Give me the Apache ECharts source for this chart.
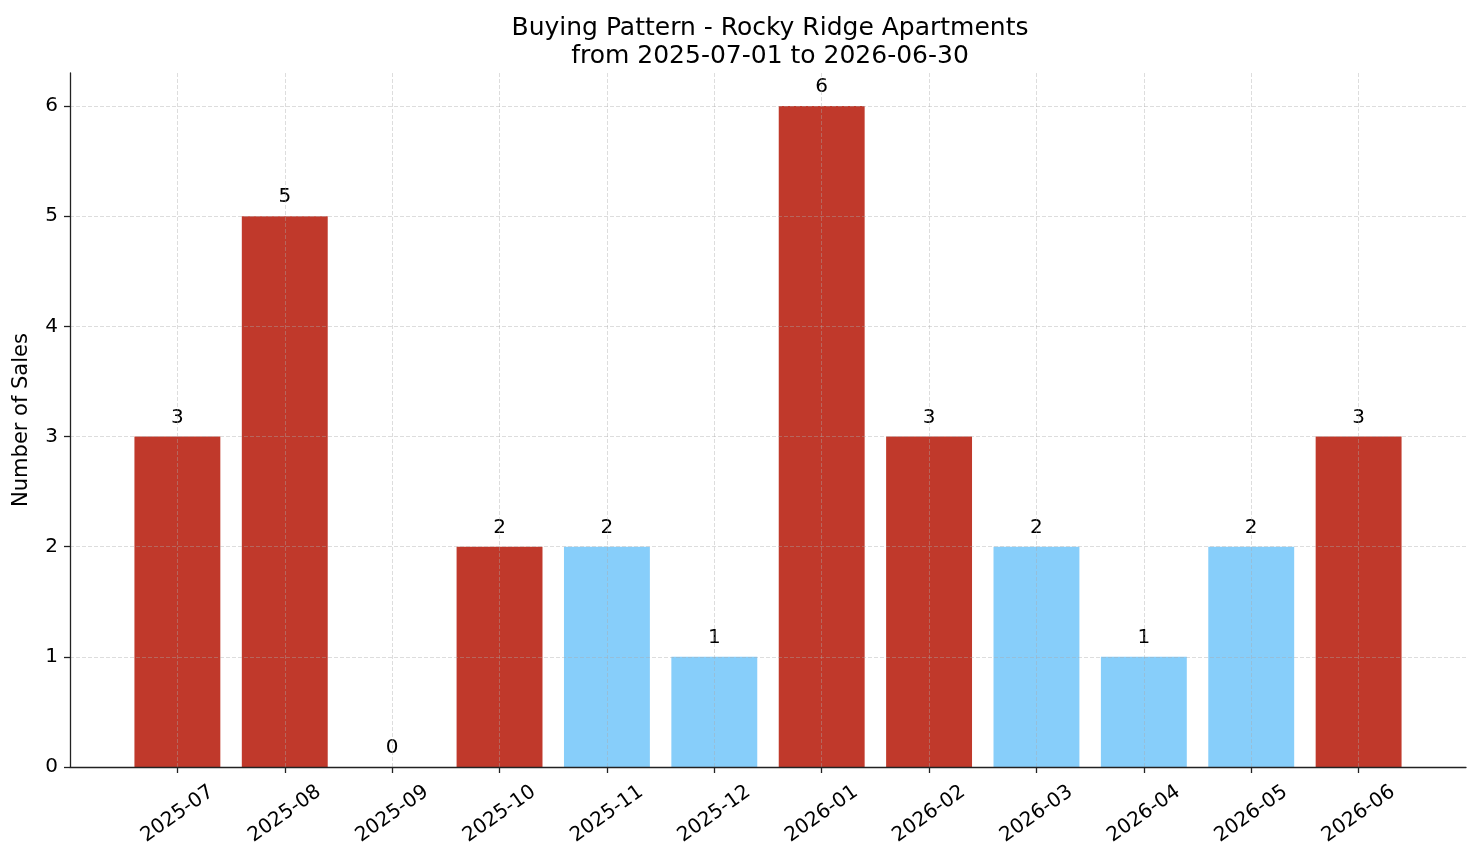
<!DOCTYPE html>
<html>
<head>
<meta charset="utf-8">
<script src="https://cdn.jsdelivr.net/npm/echarts@6/dist/echarts.min.js"></script>
<style>
  html, body { margin: 0; padding: 0; background: #fff; }
  #bar-chart { width: 1481px; height: 863px; }
</style>
</head>
<body>
<div id="bar-chart"></div>
<script>
// monthly sales counts
const months = ["2025-07", "2025-08", "2025-09", "2025-10", "2025-11", "2025-12",
  "2026-01", "2026-02", "2026-03", "2026-04", "2026-05", "2026-06"];
const sales = [3, 5, 0, 2, 2, 1, 6, 3, 2, 1, 2, 3];
// months drawn in light blue
const lowMonths = [false, false, false, false, true, true, false, false, true, true, true, false];
const yTicks = [0, 1, 2, 3, 4, 5, 6];

const RED = "#C0392B";
const BLUE = "#87CEFA";
const FONT = "DejaVu Sans";

// one empty slot on each side, like the original x limits
const axisCats = [""].concat(months, [""]);
const barData = ["-"].concat(
  sales.map((v, i) => ({ value: v, itemStyle: { color: lowMonths[i] ? BLUE : RED } })),
  ["-"]
);
const isMonth = (i, v) => v !== "";

const gridLine = { color: "rgba(170,170,170,0.5)", width: 0.8, type: [4, 2] };

const myChart = echarts.init(document.getElementById("bar-chart"));
myChart.setOption({
  animation: false,
  textStyle: { fontFamily: FONT },
  title: {
    text: "Buying Pattern - Rocky Ridge Apartments\nfrom 2025-07-01 to 2026-06-30",
    left: 765,
    textAlign: "center",
    top: 9,
    textStyle: { fontFamily: FONT, fontSize: 25, fontWeight: "normal", color: "#000", lineHeight: 28 },
  },
  grid: { left: 70, right: 15, top: 73, bottom: 96 },
  xAxis: {
    type: "category",
    data: axisCats,
    boundaryGap: false,
    z: 3,
    axisLine: { lineStyle: { color: "#222", width: 1.3 } },
    axisTick: { interval: isMonth, length: 6, lineStyle: { color: "#222", width: 1.3 } },
    axisLabel: {
      interval: isMonth,
      rotate: 35,
      align: "center",
      verticalAlign: "middle",
      margin: 47,
      fontSize: 20,
      color: "#000",
      fontFamily: FONT,
    },
    splitLine: { show: true, interval: isMonth, lineStyle: gridLine },
  },
  yAxis: {
    type: "value",
    min: yTicks[0],
    max: 6.3,
    interval: 1,
    z: 3,
    name: "Number of Sales",
    nameLocation: "middle",
    nameGap: 38,
    nameTextStyle: { fontSize: 21, color: "#000", fontFamily: FONT },
    axisLine: { show: true, lineStyle: { color: "#222", width: 1.3 } },
    axisTick: { show: true, length: 6, lineStyle: { color: "#222", width: 1.3 } },
    axisLabel: {
      fontSize: 20,
      color: "#000",
      fontFamily: FONT,
      margin: 12,
      showMaxLabel: false,
      formatter: (v) => (yTicks.indexOf(v) >= 0 ? String(v) : ""),
    },
    splitLine: { show: true, showMaxLine: false, lineStyle: gridLine },
  },
  series: [
    {
      type: "bar",
      data: barData,
      barWidth: "80%",
      label: {
        show: true,
        position: "top",
        distance: 9,
        fontSize: 20,
        color: "#000",
        fontFamily: FONT,
      },
    },
  ],
});

window.addEventListener("resize", () => {
  myChart.resize();
});
</script>
</body>
</html>
